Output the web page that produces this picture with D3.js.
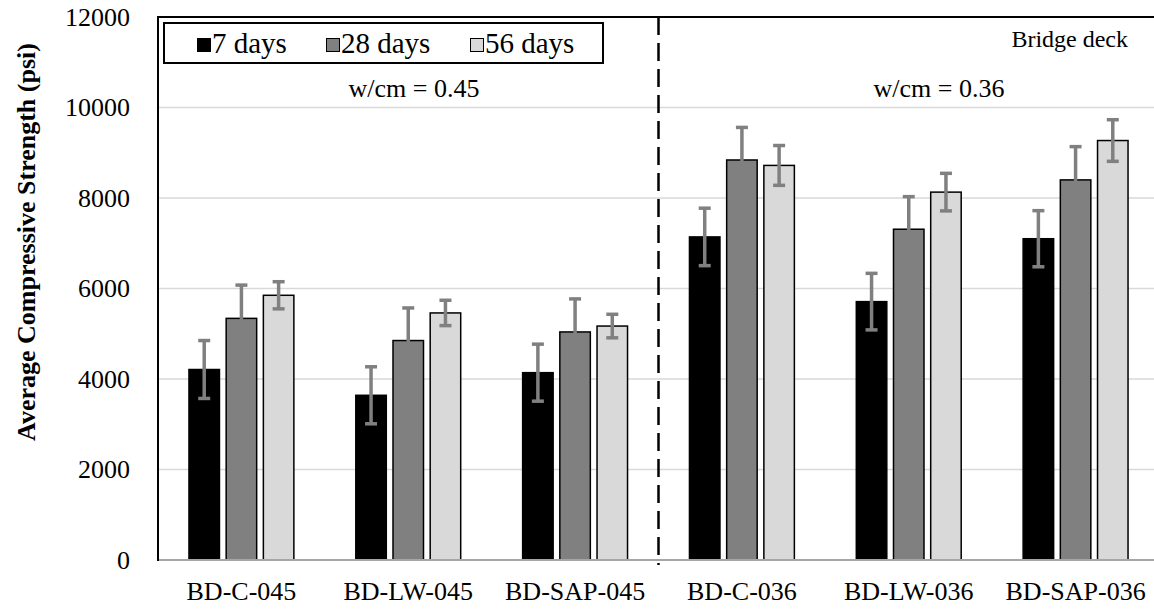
<!DOCTYPE html>
<html>
<head>
<meta charset="utf-8">
<script src="https://cdn.jsdelivr.net/npm/d3@7"></script>
<style>
  body { margin: 0; background: #fff; }
  svg, svg text { font-family: "Liberation Serif", "Times New Roman", serif; }
</style>
</head>
<body>
<div id="chart"></div>
<script>
// data
const categories = ["BD-C-045", "BD-LW-045", "BD-SAP-045", "BD-C-036", "BD-LW-036", "BD-SAP-036"];
const seriesNames = ["7 days", "28 days", "56 days"];
const days7 = [4210, 3640, 4140, 7140, 5710, 7100];
const days28 = [5340, 4850, 5040, 8840, 7310, 8400];
const days56 = [5850, 5460, 5170, 8720, 8130, 9270];
const err7 = [640, 630, 630, 635, 625, 620];
const err28 = [735, 720, 730, 720, 720, 735];
const err56 = [300, 280, 260, 440, 415, 460];
const yTicks = [0, 2000, 4000, 6000, 8000, 10000, 12000];

const colors = ["#000000", "#808080", "#d9d9d9"];
const values = [days7, days28, days56];
const errors = [err7, err28, err56];

const width = 1154, height = 609;
const margin = { left: 158, right: 1159, top: 17, bottom: 560 };
const serif = "'Liberation Serif', 'Times New Roman', serif";

const svg = d3.select("#chart").append("svg")
  .attr("width", width)
  .attr("height", height)
  .attr("font-family", serif);

const x = d3.scaleBand().domain(categories).range([margin.left, margin.right]);
const xSub = d3.scaleBand().domain(seriesNames).range([-55.8, 55.8])
  .paddingInner(0.18).paddingOuter(0.09);
const y = d3.scaleLinear().domain([0, 12000]).range([margin.bottom, margin.top]);

// gridlines
svg.append("g")
  .selectAll("line")
  .data(yTicks.filter(d => d > 0 && d < 12000))
  .join("line")
  .attr("x1", margin.left).attr("x2", margin.right)
  .attr("y1", d => y(d)).attr("y2", d => y(d))
  .attr("stroke", "#d9d9d9")
  .attr("stroke-width", 1.5);

// y axis labels
const yAxis = svg.append("g")
  .attr("transform", `translate(${margin.left},0)`)
  .call(d3.axisLeft(y).tickValues(yTicks).tickSize(0).tickPadding(28).tickFormat(d3.format("d")));
yAxis.attr("font-family", serif);
yAxis.select(".domain").remove();
yAxis.selectAll("text")
  .attr("font-size", 26)
  .attr("fill", "#000");

// x axis labels
const xAxis = svg.append("g")
  .attr("transform", `translate(0,${margin.bottom})`)
  .call(d3.axisBottom(x).tickSize(0).tickPadding(22));
xAxis.attr("font-family", serif);
xAxis.select(".domain").remove();
xAxis.selectAll("text")
  .attr("font-size", 26)
  .attr("fill", "#000");

// bars
const rows = [];
categories.forEach((c, i) => {
  seriesNames.forEach((s, j) => {
    rows.push({ cat: c, series: s, v: values[j][i], e: errors[j][i], color: colors[j] });
  });
});

svg.append("g")
  .selectAll("rect")
  .data(rows)
  .join("rect")
  .attr("x", d => x(d.cat) + x.bandwidth() / 2 + xSub(d.series))
  .attr("y", d => y(d.v))
  .attr("width", xSub.bandwidth())
  .attr("height", d => y(0) - y(d.v))
  .attr("fill", d => d.color)
  .attr("stroke", "#000")
  .attr("stroke-width", 1.5);

// error bars
const eb = svg.append("g")
  .attr("stroke", "#808080")
  .attr("stroke-width", 3.5)
  .selectAll("g")
  .data(rows)
  .join("g")
  .attr("transform", d => `translate(${x(d.cat) + x.bandwidth() / 2 + xSub(d.series) + xSub.bandwidth() / 2},0)`);
eb.append("line")
  .attr("y1", d => y(d.v + d.e)).attr("y2", d => y(d.v - d.e));
eb.append("line")
  .attr("x1", -6).attr("x2", 6)
  .attr("y1", d => y(d.v + d.e)).attr("y2", d => y(d.v + d.e));
eb.append("line")
  .attr("x1", -6).attr("x2", 6)
  .attr("y1", d => y(d.v - d.e)).attr("y2", d => y(d.v - d.e));

// baseline
svg.append("line")
  .attr("x1", margin.left).attr("x2", margin.right)
  .attr("y1", y(0)).attr("y2", y(0))
  .attr("stroke", "#a6a6a6")
  .attr("stroke-width", 2);

// frame: left + top
svg.append("line")
  .attr("x1", margin.left).attr("x2", margin.left)
  .attr("y1", margin.top).attr("y2", margin.bottom + 1)
  .attr("stroke", "#000").attr("stroke-width", 2);
svg.append("line")
  .attr("x1", margin.left - 1).attr("x2", margin.right)
  .attr("y1", margin.top).attr("y2", margin.top)
  .attr("stroke", "#000").attr("stroke-width", 2);

// dashed divider between the two w/cm groups
const divX = x(categories[3]);
svg.append("line")
  .attr("x1", divX).attr("x2", divX)
  .attr("y1", margin.top).attr("y2", margin.bottom + 5)
  .attr("stroke", "#000")
  .attr("stroke-width", 2.5)
  .attr("stroke-dasharray", "18,8");

// annotations
svg.append("text")
  .attr("x", 414).attr("y", 97)
  .attr("text-anchor", "middle")
  .attr("font-size", 26)
  .text("w/cm = 0.45");
svg.append("text")
  .attr("x", 939).attr("y", 97)
  .attr("text-anchor", "middle")
  .attr("font-size", 26)
  .text("w/cm = 0.36");
svg.append("text")
  .attr("x", 1128).attr("y", 47)
  .attr("text-anchor", "end")
  .attr("font-size", 24)
  .text("Bridge deck");

// y title
svg.append("text")
  .attr("transform", "translate(35,242) rotate(-90)")
  .attr("text-anchor", "middle")
  .attr("font-size", 26)
  .attr("font-weight", "bold")
  .text("Average Compressive Strength (psi)");

// legend
const legend = svg.append("g");
legend.append("rect")
  .attr("x", 164).attr("y", 23)
  .attr("width", 439).attr("height", 40)
  .attr("fill", "#fff")
  .attr("stroke", "#000")
  .attr("stroke-width", 2);
const legendX = [197, 326, 470];
const item = legend.selectAll("g.item")
  .data(seriesNames)
  .join("g")
  .attr("class", "item")
  .attr("transform", (d, i) => `translate(${legendX[i]},0)`);
item.append("rect")
  .attr("x", 0.5).attr("y", 38.5)
  .attr("width", 13).attr("height", 13)
  .attr("fill", (d, i) => colors[i])
  .attr("stroke", "#000")
  .attr("stroke-width", 1);
item.append("text")
  .attr("x", 15).attr("y", 53)
  .attr("font-size", 29)
  .text(d => d);
</script>
</body>
</html>
